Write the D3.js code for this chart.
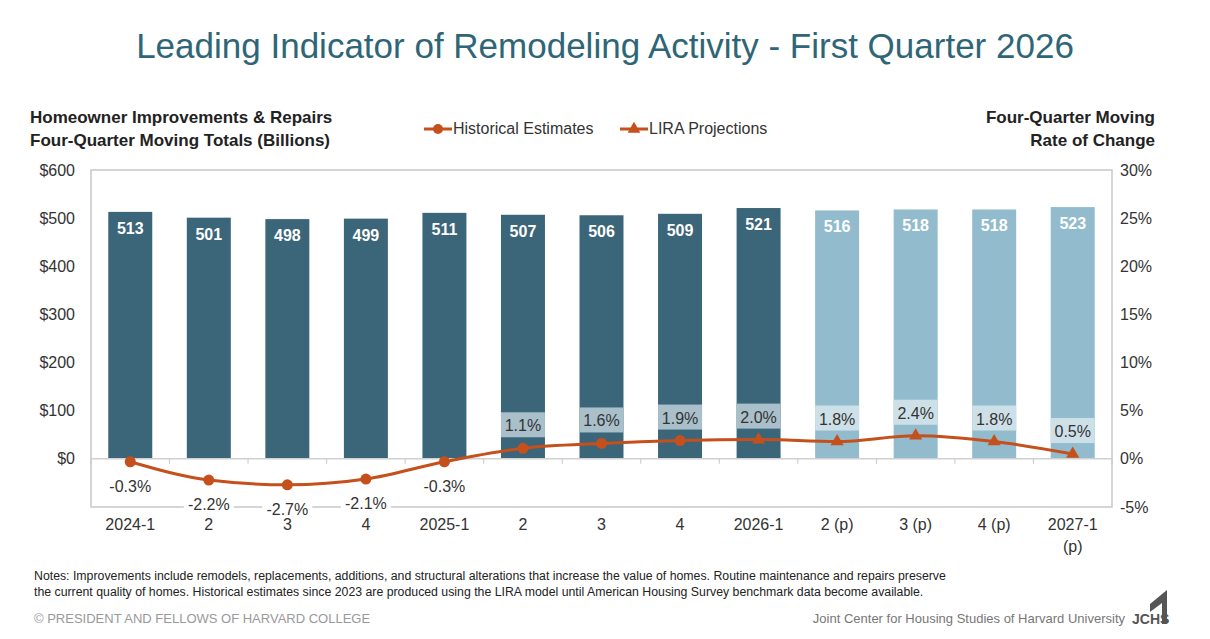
<!DOCTYPE html>
<html><head><meta charset="utf-8">
<script src="https://cdn.jsdelivr.net/npm/d3@7"></script>
<style>body{margin:0;background:#fff;font-family:Arial,"Liberation Sans",sans-serif;}</style>
</head><body><svg id="c" width="1210" height="639"></svg>
<script>
const categories = ["2024-1","2","3","4","2025-1","2","3","4","2026-1","2 (p)","3 (p)","4 (p)","2027-1"];
const spending = [513,501,498,499,511,507,506,509,521,516,518,518,523];
const change = [-0.3,-2.2,-2.7,-2.1,-0.3,1.1,1.6,1.9,2.0,1.8,2.4,1.8,0.5];
const projected = [false,false,false,false,false,false,false,false,false,true,true,true,true];
const lineProjected = [false,false,false,false,false,false,false,false,true,true,true,true,true];
const leftTicks = [0,100,200,300,400,500,600];
const rightTicks = [-5,0,5,10,15,20,25,30];

const dark = "#3b6579", light = "#92bccd", orange = "#c5501c", txt = "#333";
const svg = d3.select("#c");
const L = 91, R = 1112, T = 170, B = 507;
const x = d3.scaleBand().domain(d3.range(categories.length)).range([L, R]).paddingInner(0.44).paddingOuter(0.22);
const y = d3.scaleLinear().domain([-100, 600]).range([B, T]);
const y2 = d3.scaleLinear().domain([-5, 30]).range([B, T]);

svg.append("text").attr("x",605).attr("y",58).attr("text-anchor","middle")
  .attr("font-size",35).attr("fill","#2e6677").text("Leading Indicator of Remodeling Activity  - First Quarter 2026");

svg.append("rect").attr("x",L).attr("y",T).attr("width",R-L).attr("height",B-T)
  .attr("fill","none").attr("stroke","#c8c8c8").attr("stroke-width",1.5);

// axis titles
const lt = svg.append("text").attr("font-size",17).attr("font-weight","bold").attr("fill","#222");
lt.append("tspan").attr("x",30).attr("y",123).text("Homeowner Improvements & Repairs");
lt.append("tspan").attr("x",30).attr("y",146).text("Four-Quarter Moving Totals (Billions)");
const rt = svg.append("text").attr("font-size",17).attr("font-weight","bold").attr("fill","#222").attr("text-anchor","end");
rt.append("tspan").attr("x",1155).attr("y",123).text("Four-Quarter Moving");
rt.append("tspan").attr("x",1155).attr("y",146).text("Rate of Change");

// legend
const lg = svg.append("g").attr("font-size",16).attr("fill",txt);
lg.append("line").attr("x1",424).attr("x2",452).attr("y1",129).attr("y2",129).attr("stroke",orange).attr("stroke-width",3);
lg.append("circle").attr("cx",438).attr("cy",129).attr("r",5).attr("fill",orange);
lg.append("text").attr("x",453).attr("y",134).text("Historical Estimates");
lg.append("line").attr("x1",620).attr("x2",648).attr("y1",129).attr("y2",129).attr("stroke",orange).attr("stroke-width",3);
lg.append("path").attr("d",d3.symbol(d3.symbolTriangle,70)()).attr("transform","translate(634,129)").attr("fill",orange);
lg.append("text").attr("x",649).attr("y",134).text("LIRA Projections");

// axes
const ax = svg.append("g").attr("transform",`translate(${L},0)`)
  .call(d3.axisLeft(y).tickValues(leftTicks).tickSize(0).tickPadding(16).tickFormat(d => "$" + d));
const ax2 = svg.append("g").attr("transform",`translate(${R},0)`)
  .call(d3.axisRight(y2).tickValues(rightTicks).tickSize(0).tickPadding(8).tickFormat(d => d + "%"));
[ax, ax2].forEach(a => { a.select(".domain").remove(); a.selectAll("text").attr("font-size",16).attr("fill",txt).attr("font-family","Arial,'Liberation Sans',sans-serif"); });

// bars
svg.selectAll(".bar").data(spending).enter().append("rect")
  .attr("x",(d,i)=>x(i)).attr("width",x.bandwidth())
  .attr("y",d=>y(d)).attr("height",d=>y(0)-y(d))
  .attr("fill",(d,i)=>projected[i]?light:dark);
svg.selectAll(".bv").data(spending).enter().append("text")
  .attr("x",(d,i)=>x(i)+x.bandwidth()/2).attr("y",d=>y(d)+22)
  .attr("text-anchor","middle").attr("font-size",16).attr("font-weight","bold").attr("fill","#fff").text(d=>d);

// baseline and ticks
svg.append("line").attr("x1",L).attr("x2",R).attr("y1",y(0)).attr("y2",y(0)).attr("stroke","#d0d0d0").attr("stroke-width",1.5);
svg.selectAll(".tk").data(d3.range(categories.length+1)).enter().append("line")
  .attr("x1",i=>L+i*x.step()*(R-L)/(x.step()*categories.length)).attr("x2",i=>L+i*(R-L)/categories.length)
  .attr("y1",y(0)).attr("y2",y(0)+5).attr("stroke","#c8c8c8");

// percent labels
const cx = i => x(i)+x.bandwidth()/2;
const lab = svg.selectAll(".pl").data(change).enter().append("g");
lab.filter(d=>d>0).append("rect")
  .attr("x",(d,i)=>x(change.indexOf(d)===i?i:i)).attr("width",x.bandwidth())
  .attr("y",(d)=>y2(d)-36).attr("height",25)
  .attr("fill",(d,i)=>projected[i]?"#cde0e8":"#a8bfcb");
lab.selectAll("rect").each(function(){});
svg.selectAll("g rect").filter(function(){return false;});
lab.each(function(d,i){
  const g = d3.select(this);
  g.select("rect").attr("x",x(i)).attr("fill",projected[i]?"#cde0e8":"#a9c0cb");
  if (d < 0) g.append("rect").attr("x",cx(i)-25).attr("width",50).attr("y",y2(d)+12).attr("height",24).attr("fill","#fff");
  g.append("text").attr("x",cx(i)).attr("y",d>0?y2(d)-17:y2(d)+30)
    .attr("text-anchor","middle").attr("font-size",16).attr("fill",txt).text(d.toFixed(1)+"%");
});

// line
const line = d3.line().x((d,i)=>cx(i)).y(d=>y2(d)).curve(d3.curveMonotoneX);
svg.append("path").datum(change).attr("d",line).attr("fill","none").attr("stroke",orange).attr("stroke-width",3);
svg.selectAll(".mk").data(change).enter().append("path")
  .attr("transform",(d,i)=>`translate(${cx(i)},${y2(d)})`)
  .attr("d",(d,i)=>d3.symbol(lineProjected[i]?d3.symbolTriangle:d3.symbolCircle, lineProjected[i]?75:95)())
  .attr("fill",orange);

// x labels
svg.selectAll(".xl").data(categories).enter().append("text")
  .attr("x",(d,i)=>cx(i)).attr("y",530).attr("text-anchor","middle").attr("font-size",16).attr("fill",txt).text(d=>d);
svg.append("text").attr("x",cx(12)).attr("y",552).attr("text-anchor","middle").attr("font-size",16).attr("fill",txt).text("(p)");

// notes
const nt = svg.append("text").attr("font-size",12.3).attr("fill","#222");
nt.append("tspan").attr("x",34).attr("y",580).text("Notes: Improvements include remodels, replacements, additions, and structural alterations that increase the value of homes. Routine maintenance and repairs preserve");
nt.append("tspan").attr("x",34).attr("y",596).text("the current quality of homes. Historical estimates since 2023 are produced using the LIRA model until American Housing Survey benchmark data become available.");
svg.append("text").attr("x",34).attr("y",623).attr("font-size",13).attr("fill","#999").text("© PRESIDENT AND FELLOWS OF HARVARD COLLEGE");
svg.append("text").attr("x",1125).attr("y",623).attr("font-size",13).attr("fill","#777").attr("text-anchor","end").text("Joint Center for Housing Studies of Harvard University");
svg.append("text").attr("x",1132).attr("y",624).attr("font-size",14).attr("font-weight","bold").attr("fill","#555").text("JCHS");
svg.append("path").attr("d","M1150,612 L1150,604 L1167,590 L1167,624 L1162,624 L1162,603 Z").attr("fill","#555");
</script></body></html>
